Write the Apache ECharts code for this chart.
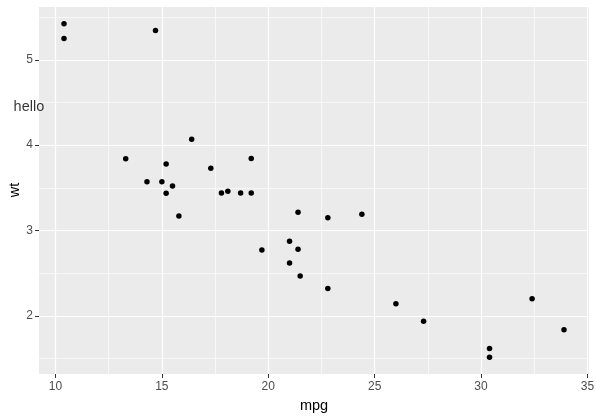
<!DOCTYPE html>
<html>
<head>
<meta charset="utf-8">
<script src="https://cdn.jsdelivr.net/npm/echarts@6/dist/echarts.min.js"></script>
<style>
  html, body { margin: 0; padding: 0; background: #fff; }
  #chart { width: 596px; height: 419px; }
</style>
</head>
<body>
<div id="chart"></div>
<script>
// mtcars: mpg vs wt
const mpg = [21.0, 21.0, 22.8, 21.4, 18.7, 18.1, 14.3, 24.4, 22.8, 19.2, 17.8, 16.4, 17.3, 15.2, 10.4, 10.4,
  14.7, 32.4, 30.4, 33.9, 21.5, 15.5, 15.2, 13.3, 19.2, 27.3, 26.0, 30.4, 15.8, 19.7, 15.0, 21.4];
const wt = [2.620, 2.875, 2.320, 3.215, 3.440, 3.460, 3.570, 3.190, 3.150, 3.440, 3.440, 4.070, 3.730, 3.780, 5.250, 5.424,
  5.345, 2.200, 1.615, 1.835, 2.465, 3.520, 3.435, 3.840, 3.845, 1.935, 2.140, 1.513, 3.170, 2.770, 3.570, 2.780];

const xMajor = [10, 15, 20, 25, 30, 35];
const xMinor = [12.5, 17.5, 22.5, 27.5, 32.5];
const yMajor = [2, 3, 4, 5];
const yMinor = [1.5, 2.5, 3.5, 4.5, 5.5];

// annotation
const noteText = 'hello';
const notePos = [8.75, 4.45];

// ggplot default expansion (5%)
const xMin = 10.4 - 0.05 * (33.9 - 10.4), xMax = 33.9 + 0.05 * (33.9 - 10.4);
const yMin = 1.513 - 0.05 * (5.424 - 1.513), yMax = 5.424 + 0.05 * (5.424 - 1.513);

const chart = echarts.init(document.getElementById('chart'));
const grey = '#4D4D4D';
const font = 'Liberation Sans, Arial, sans-serif';

const options = {
  animation: false,
  textStyle: { fontFamily: font },
  grid: {
    left: 39, right: 7, top: 7, bottom: 45,
    outerBoundsMode: 'none',
    show: true, backgroundColor: '#EBEBEB', borderWidth: 0
  },
  // y axis title (placed by hand, ECharts pushes the axis name too far out)
  graphic: [{
    type: 'text', x: 15, y: 190, rotation: Math.PI / 2,
    style: {
      text: 'wt', fill: '#000', fontSize: 14.5, fontFamily: font,
      align: 'center', verticalAlign: 'middle'
    }
  }],
  xAxis: [
    {
      type: 'value', min: xMin, max: xMax,
      name: 'mpg', nameLocation: 'middle', nameGap: 24,
      nameTextStyle: { color: '#000', fontSize: 14.5, fontFamily: font },
      axisLine: { show: false },
      axisTick: { show: true, length: 4, lineStyle: { color: '#333333', width: 1 }, customValues: xMajor },
      axisLabel: { color: grey, fontSize: 12, margin: 7, customValues: xMajor, fontFamily: font },
      splitLine: { show: true, lineStyle: { color: '#fff', width: 1.2 } }
    },
    {
      type: 'value', min: xMin, max: xMax, position: 'bottom',
      axisLine: { show: false },
      axisTick: { show: false, customValues: xMinor },
      axisLabel: { show: false, customValues: xMinor },
      splitLine: { show: true, lineStyle: { color: '#fff', width: 0.6 } }
    }
  ],
  yAxis: [
    {
      type: 'value', min: yMin, max: yMax,
      axisLine: { show: false },
      axisTick: { show: true, length: 4, lineStyle: { color: '#333333', width: 1 }, customValues: yMajor },
      axisLabel: { color: grey, fontSize: 12, margin: 6, customValues: yMajor, fontFamily: font },
      splitLine: { show: true, lineStyle: { color: '#fff', width: 1.2 } }
    },
    {
      type: 'value', min: yMin, max: yMax, position: 'left',
      axisLine: { show: false },
      axisTick: { show: false, customValues: yMinor },
      axisLabel: { show: false, customValues: yMinor },
      splitLine: { show: true, lineStyle: { color: '#fff', width: 0.6 } }
    }
  ],
  series: [
    {
      type: 'scatter',
      data: mpg.map((m, i) => [m, wt[i]]),
      symbolSize: 5.5,
      itemStyle: { color: '#000', opacity: 1 },
      z: 3
    },
    {
      type: 'scatter',
      clip: false,
      data: [notePos],
      symbolSize: 0,
      silent: true,
      label: {
        show: true, position: 'inside', formatter: noteText,
        color: '#000', fontSize: 14.5, fontFamily: font
      }
    }
  ]
};
chart.setOption(options);
</script>
</body>
</html>
